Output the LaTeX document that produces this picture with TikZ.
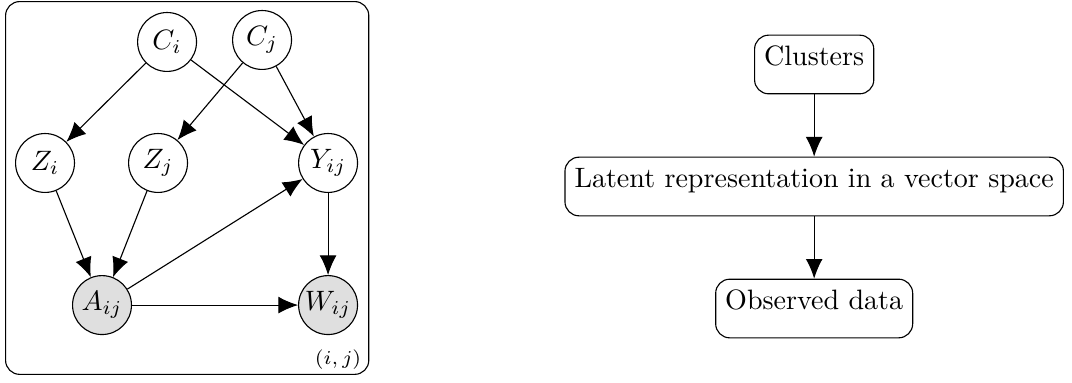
\documentclass[tikz,border=0pt]{standalone}
\usepackage{tikz}
\usetikzlibrary{positioning, arrows.meta}

\begin{document}
\begin{tikzpicture}[
	latent/.style={circle, draw, minimum size=21pt, inner sep=0pt},
	obs/.style={latent, fill=gray!25},
	box/.style={draw, rounded corners=5pt, inner sep=3.4pt, text height=7.5pt, text depth=6.6pt},
	>={Latex[length=7pt, width=6pt]}
	]
	\useasboundingbox (0,0) rectangle (13.43,-4.787);

	% graphical model
	\node[latent] (ci) at (2.093,-0.526) {$C_i$};
	\node[latent] (cj) at (3.283,-0.501) {$C_j$};
	\node[latent] (zi) at (0.564,-2.042) {$Z_i$};
	\node[latent] (zj) at (1.980,-2.042) {$Z_j$};
	\node[latent] (y) at (4.110,-2.042) {$Y_{ij}$};
	\node[obs] (a) at (1.278,-3.822) {$A_{ij}$};
	\node[obs] (w) at (4.110,-3.822) {$W_{ij}$};

	\coordinate (pnw) at (0.07,-0.02);
	\coordinate (pse) at (4.62,-4.69);
	\draw[rounded corners=5pt] (pnw) rectangle (pse);
	\node[font=\scriptsize] (lbl) at (4.235,-4.50) {$(i,j)$};

	\draw [->]
		(ci) edge[] node{} (zi)
		(ci) edge[] node{} (y)
		(cj) edge[] node{} (zj)
		(cj) edge[] node{} (y)

		(zi) edge[] node{} (a)
		(zj) edge[] node{} (a)

		(a) edge[] node{} (y)
		(a) edge[] node{} (w)
		(y) edge[] node{} (w)
		;

	% overview
	\node[box] (clusters) at (10.20,-0.808) {Clusters};
	\node[box, below=0.78cm of clusters] (latent) {Latent representation in a vector space};
	\node[box, below=0.78cm of latent] (data) {Observed data};

	\draw [->]
		(clusters) edge[] node{} (latent)
		(latent) edge[] node{} (data)
		;
\end{tikzpicture}
\end{document}
